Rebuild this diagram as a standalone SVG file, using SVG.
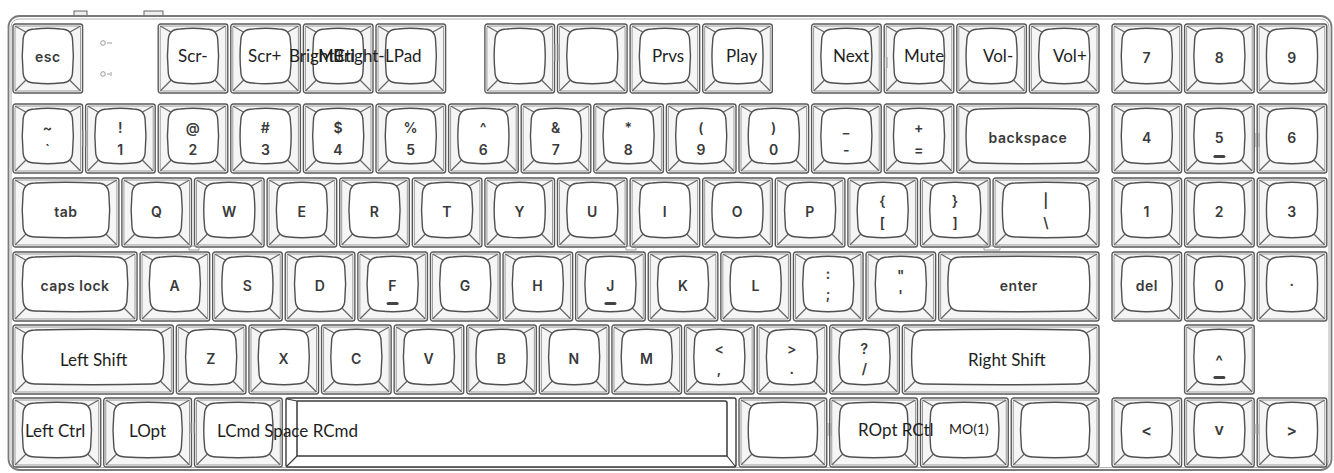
<svg xmlns="http://www.w3.org/2000/svg" xmlns:xlink="http://www.w3.org/1999/xlink" width="1334" height="473" viewBox="0 0 1334 473">
<style>
.ko{fill:#fff;stroke:#5a5a5a;stroke-width:1.4}
.ki{fill:#f5f5f5;stroke:#9a9a9a;stroke-width:1}
.kc{fill:#fff;stroke:#505050;stroke-width:1.4}
.kd{fill:none;stroke:#666;stroke-width:1.2}
.lg{font-family:Inter,"Noto Sans",sans-serif;font-weight:600;font-size:14px;fill:#3a3a3a;text-anchor:middle;letter-spacing:.5px}
.lg.ar{font-size:16px}
.ov{font-family:Lato,"Liberation Sans",sans-serif;font-size:17px;fill:#1e1e1e}
.ov.s{font-size:14px}
.mk{fill:none;stroke:#9a9a9a;stroke-width:1}
.bump{fill:#444}
</style>
<defs>
<g id="k100"><rect class="ko" width="69.6" height="69" rx="2.5"/><rect class="ki" x="2" y="2" width="65.6" height="65" rx="1.5"/><path class="kd" d="M2 2L13.5 8.5M67.6 2L56.1 8.5M2 67L13.5 55.5M67.6 67L56.1 55.5"/><path class="kc" d="M22 5Q34.8 3.5 47.6 5Q59.6 5 59.6 17Q61.1 32 59.6 47Q59.6 59 47.6 59Q34.8 60.5 22 59Q10 59 10 47Q8.5 32 10 17Q10 5 22 5Z"/></g>
<g id="k125"><rect class="ko" width="87.75" height="69" rx="2.5"/><rect class="ki" x="2" y="2" width="83.75" height="65" rx="1.5"/><path class="kd" d="M2 2L13.5 8.5M85.75 2L74.25 8.5M2 67L13.5 55.5M85.75 67L74.25 55.5"/><path class="kc" d="M22 5Q43.9 3.5 65.75 5Q77.75 5 77.75 17Q79.25 32 77.75 47Q77.75 59 65.75 59Q43.9 60.5 22 59Q10 59 10 47Q8.5 32 10 17Q10 5 22 5Z"/></g>
<g id="k150"><rect class="ko" width="105.9" height="69" rx="2.5"/><rect class="ki" x="2" y="2" width="101.9" height="65" rx="1.5"/><path class="kd" d="M2 2L13.5 8.5M103.9 2L92.4 8.5M2 67L13.5 55.5M103.9 67L92.4 55.5"/><path class="kc" d="M22 5Q52.95 3.5 83.9 5Q95.9 5 95.9 17Q97.4 32 95.9 47Q95.9 59 83.9 59Q52.95 60.5 22 59Q10 59 10 47Q8.5 32 10 17Q10 5 22 5Z"/></g>
<g id="k175"><rect class="ko" width="124.05" height="69" rx="2.5"/><rect class="ki" x="2" y="2" width="120.05" height="65" rx="1.5"/><path class="kd" d="M2 2L13.5 8.5M122.05 2L110.55 8.5M2 67L13.5 55.5M122.05 67L110.55 55.5"/><path class="kc" d="M22 5Q62 3.5 102.05 5Q114.05 5 114.05 17Q115.55 32 114.05 47Q114.05 59 102.05 59Q62 60.5 22 59Q10 59 10 47Q8.5 32 10 17Q10 5 22 5Z"/></g>
<g id="k200"><rect class="ko" width="142.2" height="69" rx="2.5"/><rect class="ki" x="2" y="2" width="138.2" height="65" rx="1.5"/><path class="kd" d="M2 2L13.5 8.5M140.2 2L128.7 8.5M2 67L13.5 55.5M140.2 67L128.7 55.5"/><path class="kc" d="M22 5Q71.1 3.5 120.2 5Q132.2 5 132.2 17Q133.7 32 132.2 47Q132.2 59 120.2 59Q71.1 60.5 22 59Q10 59 10 47Q8.5 32 10 17Q10 5 22 5Z"/></g>
<g id="k225"><rect class="ko" width="160.35" height="69" rx="2.5"/><rect class="ki" x="2" y="2" width="156.35" height="65" rx="1.5"/><path class="kd" d="M2 2L13.5 8.5M158.35 2L146.85 8.5M2 67L13.5 55.5M158.35 67L146.85 55.5"/><path class="kc" d="M22 5Q80.2 3.5 138.35 5Q150.35 5 150.35 17Q151.85 32 150.35 47Q150.35 59 138.35 59Q80.2 60.5 22 59Q10 59 10 47Q8.5 32 10 17Q10 5 22 5Z"/></g>
<g id="k275"><rect class="ko" width="196.65" height="69" rx="2.5"/><rect class="ki" x="2" y="2" width="192.65" height="65" rx="1.5"/><path class="kd" d="M2 2L13.5 8.5M194.65 2L183.15 8.5M2 67L13.5 55.5M194.65 67L183.15 55.5"/><path class="kc" d="M22 5Q98.3 3.5 174.65 5Q186.65 5 186.65 17Q188.15 32 186.65 47Q186.65 59 174.65 59Q98.3 60.5 22 59Q10 59 10 47Q8.5 32 10 17Q10 5 22 5Z"/></g>
</defs>
<rect width="1334" height="473" fill="#fff"/>
<g id="case">
<rect x="74" y="11" width="13" height="5" fill="#eee" stroke="#666" stroke-width="1"/>
<rect x="144" y="11" width="19" height="5" fill="#eee" stroke="#666" stroke-width="1"/>
<rect x="8.5" y="16" width="1323" height="454" rx="11" fill="#fff" stroke="#7a7a7a" stroke-width="1.8"/>
<rect x="11" y="19" width="1318" height="448.5" rx="8" fill="#fff" stroke="#b0b0b0" stroke-width="1"/>
</g>
<g id="leds">
<circle cx="103" cy="43" r="2.3" class="mk"/><path class="mk" d="M107 43h5"/>
<circle cx="103" cy="74" r="2.3" class="mk"/><path class="mk" d="M107 74h3M111 72v4"/>
</g>
<g id="row-fn">
<g id="key-esc"><use href="#k100" x="13" y="24"/><text class="lg" x="47.8" y="62">esc</text></g>
<g id="key-f1"><use href="#k100" x="158.2" y="24"/></g>
<g id="key-f2"><use href="#k100" x="230.8" y="24"/></g>
<g id="key-f3"><use href="#k100" x="303.4" y="24"/></g>
<g id="key-f4"><use href="#k100" x="376" y="24"/></g>
<g id="key-f5"><use href="#k100" x="484.9" y="24"/></g>
<g id="key-f6"><use href="#k100" x="557.5" y="24"/></g>
<g id="key-f7"><use href="#k100" x="630.1" y="24"/></g>
<g id="key-f8"><use href="#k100" x="702.7" y="24"/></g>
<g id="key-f9"><use href="#k100" x="811.6" y="24"/></g>
<g id="key-f10"><use href="#k100" x="884.2" y="24"/></g>
<g id="key-f11"><use href="#k100" x="956.8" y="24"/></g>
<g id="key-f12"><use href="#k100" x="1029.4" y="24"/></g>
<g id="key-p7"><use href="#k100" x="1112" y="24"/><text class="lg" x="1146.8" y="63">7</text></g>
<g id="key-p8"><use href="#k100" x="1184.6" y="24"/><text class="lg" x="1219.4" y="63">8</text></g>
<g id="key-p9"><use href="#k100" x="1257.2" y="24"/><text class="lg" x="1292" y="63">9</text></g>
</g>
<g id="row-num">
<g id="key-grave"><use href="#k100" x="13" y="104"/><text class="lg" x="47.8" y="133">~</text><text class="lg" x="47.8" y="155">`</text></g>
<g id="key-1"><use href="#k100" x="85.6" y="104"/><text class="lg" x="120.4" y="133">!</text><text class="lg" x="120.4" y="155">1</text></g>
<g id="key-2"><use href="#k100" x="158.2" y="104"/><text class="lg" x="193" y="133">@</text><text class="lg" x="193" y="155">2</text></g>
<g id="key-3"><use href="#k100" x="230.8" y="104"/><text class="lg" x="265.6" y="133">#</text><text class="lg" x="265.6" y="155">3</text></g>
<g id="key-4"><use href="#k100" x="303.4" y="104"/><text class="lg" x="338.2" y="133">$</text><text class="lg" x="338.2" y="155">4</text></g>
<g id="key-5"><use href="#k100" x="376" y="104"/><text class="lg" x="410.8" y="133">%</text><text class="lg" x="410.8" y="155">5</text></g>
<g id="key-6"><use href="#k100" x="448.6" y="104"/><text class="lg" x="483.4" y="133">^</text><text class="lg" x="483.4" y="155">6</text></g>
<g id="key-7"><use href="#k100" x="521.2" y="104"/><text class="lg" x="556" y="133">&amp;</text><text class="lg" x="556" y="155">7</text></g>
<g id="key-8"><use href="#k100" x="593.8" y="104"/><text class="lg" x="628.6" y="133">*</text><text class="lg" x="628.6" y="155">8</text></g>
<g id="key-9"><use href="#k100" x="666.4" y="104"/><text class="lg" x="701.2" y="133">(</text><text class="lg" x="701.2" y="155">9</text></g>
<g id="key-0"><use href="#k100" x="739" y="104"/><text class="lg" x="773.8" y="133">)</text><text class="lg" x="773.8" y="155">0</text></g>
<g id="key-minus"><use href="#k100" x="811.6" y="104"/><text class="lg" x="846.4" y="133">_</text><text class="lg" x="846.4" y="155">-</text></g>
<g id="key-equal"><use href="#k100" x="884.2" y="104"/><text class="lg" x="919" y="133">+</text><text class="lg" x="919" y="155">=</text></g>
<g id="key-bksp"><use href="#k200" x="956.8" y="104"/><text class="lg" x="1027.9" y="143">backspace</text></g>
<g id="key-p4"><use href="#k100" x="1112" y="104"/><text class="lg" x="1146.8" y="143">4</text></g>
<g id="key-p5"><use href="#k100" x="1184.6" y="104"/><text class="lg" x="1219.4" y="143">5</text><rect class="bump" x="1213.4" y="155" width="12" height="3" rx="1.5"/></g>
<g id="key-p6"><use href="#k100" x="1257.2" y="104"/><text class="lg" x="1292" y="143">6</text></g>
</g>
<g id="row-top">
<g id="key-tab"><use href="#k150" x="13" y="178"/><text class="lg" x="65.95" y="217">tab</text></g>
<g id="key-q"><use href="#k100" x="121.9" y="178"/><text class="lg" x="156.7" y="217">Q</text></g>
<g id="key-w"><use href="#k100" x="194.5" y="178"/><text class="lg" x="229.3" y="217">W</text></g>
<g id="key-e"><use href="#k100" x="267.1" y="178"/><text class="lg" x="301.9" y="217">E</text></g>
<g id="key-r"><use href="#k100" x="339.7" y="178"/><text class="lg" x="374.5" y="217">R</text></g>
<g id="key-t"><use href="#k100" x="412.3" y="178"/><text class="lg" x="447.1" y="217">T</text></g>
<g id="key-y"><use href="#k100" x="484.9" y="178"/><text class="lg" x="519.7" y="217">Y</text></g>
<g id="key-u"><use href="#k100" x="557.5" y="178"/><text class="lg" x="592.3" y="217">U</text></g>
<g id="key-i"><use href="#k100" x="630.1" y="178"/><text class="lg" x="664.9" y="217">I</text></g>
<g id="key-o"><use href="#k100" x="702.7" y="178"/><text class="lg" x="737.5" y="217">O</text></g>
<g id="key-p"><use href="#k100" x="775.3" y="178"/><text class="lg" x="810.1" y="217">P</text></g>
<g id="key-lbr"><use href="#k100" x="847.9" y="178"/><text class="lg" x="882.7" y="206">{</text><text class="lg" x="882.7" y="228">[</text></g>
<g id="key-rbr"><use href="#k100" x="920.5" y="178"/><text class="lg" x="955.3" y="206">}</text><text class="lg" x="955.3" y="228">]</text></g>
<g id="key-bsl"><use href="#k150" x="993.1" y="178"/><text class="lg" x="1046.05" y="206">|</text><text class="lg" x="1046.05" y="228">\</text></g>
<g id="key-p1"><use href="#k100" x="1112" y="178"/><text class="lg" x="1146.8" y="217">1</text></g>
<g id="key-p2"><use href="#k100" x="1184.6" y="178"/><text class="lg" x="1219.4" y="217">2</text></g>
<g id="key-p3"><use href="#k100" x="1257.2" y="178"/><text class="lg" x="1292" y="217">3</text></g>
</g>
<g id="row-home">
<g id="key-caps"><use href="#k175" x="13" y="252"/><text class="lg" x="75" y="291">caps lock</text></g>
<g id="key-a"><use href="#k100" x="140.05" y="252"/><text class="lg" x="174.85" y="291">A</text></g>
<g id="key-s"><use href="#k100" x="212.65" y="252"/><text class="lg" x="247.45" y="291">S</text></g>
<g id="key-d"><use href="#k100" x="285.25" y="252"/><text class="lg" x="320.05" y="291">D</text></g>
<g id="key-f"><use href="#k100" x="357.85" y="252"/><text class="lg" x="392.65" y="291">F</text><rect class="bump" x="386.65" y="302" width="12" height="3" rx="1.5"/></g>
<g id="key-g"><use href="#k100" x="430.45" y="252"/><text class="lg" x="465.25" y="291">G</text></g>
<g id="key-h"><use href="#k100" x="503.05" y="252"/><text class="lg" x="537.85" y="291">H</text></g>
<g id="key-j"><use href="#k100" x="575.65" y="252"/><text class="lg" x="610.45" y="291">J</text><rect class="bump" x="604.45" y="302" width="12" height="3" rx="1.5"/></g>
<g id="key-k"><use href="#k100" x="648.25" y="252"/><text class="lg" x="683.05" y="291">K</text></g>
<g id="key-l"><use href="#k100" x="720.85" y="252"/><text class="lg" x="755.65" y="291">L</text></g>
<g id="key-semi"><use href="#k100" x="793.45" y="252"/><text class="lg" x="828.25" y="279">:</text><text class="lg" x="828.25" y="299">;</text></g>
<g id="key-quote"><use href="#k100" x="866.05" y="252"/><text class="lg" x="900.85" y="281">"</text><text class="lg" x="900.85" y="301">'</text></g>
<g id="key-enter"><use href="#k225" x="938.65" y="252"/><text class="lg" x="1018.8" y="291">enter</text></g>
<g id="key-pdel"><use href="#k100" x="1112" y="252"/><text class="lg" x="1146.8" y="291">del</text></g>
<g id="key-p0"><use href="#k100" x="1184.6" y="252"/><text class="lg" x="1219.4" y="291">0</text></g>
<g id="key-pdot"><use href="#k100" x="1257.2" y="252"/><text class="lg" x="1292" y="286">.</text></g>
</g>
<g id="row-shift">
<g id="key-lshift"><use href="#k225" x="13" y="325"/></g>
<g id="key-z"><use href="#k100" x="176.35" y="325"/><text class="lg" x="211.15" y="364">Z</text></g>
<g id="key-x"><use href="#k100" x="248.95" y="325"/><text class="lg" x="283.75" y="364">X</text></g>
<g id="key-c"><use href="#k100" x="321.55" y="325"/><text class="lg" x="356.35" y="364">C</text></g>
<g id="key-v"><use href="#k100" x="394.15" y="325"/><text class="lg" x="428.95" y="364">V</text></g>
<g id="key-b"><use href="#k100" x="466.75" y="325"/><text class="lg" x="501.55" y="364">B</text></g>
<g id="key-n"><use href="#k100" x="539.35" y="325"/><text class="lg" x="574.15" y="364">N</text></g>
<g id="key-m"><use href="#k100" x="611.95" y="325"/><text class="lg" x="646.75" y="364">M</text></g>
<g id="key-comma"><use href="#k100" x="684.55" y="325"/><text class="lg" x="719.35" y="354">&lt;</text><text class="lg" x="719.35" y="374">,</text></g>
<g id="key-period"><use href="#k100" x="757.15" y="325"/><text class="lg" x="791.95" y="354">&gt;</text><text class="lg" x="791.95" y="374">.</text></g>
<g id="key-slash"><use href="#k100" x="829.75" y="325"/><text class="lg" x="864.55" y="354">?</text><text class="lg" x="864.55" y="374">/</text></g>
<g id="key-rshift"><use href="#k275" x="902.35" y="325"/></g>
<g id="key-up"><use href="#k100" x="1184.6" y="325"/><text class="lg ar" x="1219.4" y="367">^</text><rect class="bump" x="1213.4" y="376" width="12" height="3" rx="1.5"/></g>
</g>
<g id="row-bottom">
<g id="key-lctrl"><use href="#k125" x="13" y="398"/></g>
<g id="key-lopt"><use href="#k125" x="103.75" y="398"/></g>
<g id="key-lcmd"><use href="#k125" x="194.5" y="398"/></g>
<g id="key-space"><rect x="286" y="398" width="450" height="69" rx="2" fill="#fff" stroke="#3a3a3a" stroke-width="1.4"/><path d="M297 401V456H727V403Q727 401 725 401H297" fill="#fff" stroke="#3a3a3a" stroke-width="1.5"/><path d="M287 466L297 456M735 466L727 456M287 399L297 401" fill="none" stroke="#3a3a3a" stroke-width="1.2"/></g>
<g id="key-r1"><use href="#k125" x="739" y="398"/></g>
<g id="key-ropt"><use href="#k125" x="829.75" y="398"/></g>
<g id="key-rctl"><use href="#k125" x="920.5" y="398"/></g>
<g id="key-fn"><use href="#k125" x="1011.25" y="398"/></g>
<g id="key-left"><use href="#k100" x="1112" y="398"/><text class="lg ar" x="1146.8" y="436">&lt;</text></g>
<g id="key-down"><use href="#k100" x="1184.6" y="398"/><text class="lg ar" x="1219.4" y="435">v</text></g>
<g id="key-right"><use href="#k100" x="1257.2" y="398"/><text class="lg ar" x="1292" y="436">&gt;</text></g>
</g>
<g id="marks">
<path class="mk" d="M83 130v16M86 130v16M555 44v17M558 44v17M884 57v11M887 57v11M1256 133v14M1259 133v14M191 423v10M194 423v10M828 423v13M831 423v13M1255 424v10M1258 424v10"/>
<path class="mk" d="M189 246h10v4h-10zM626 246h10v4h-10zM984 246h16v4h-16z"/>
</g>
<g id="labels">
<text class="ov" x="178" y="62">Scr-</text>
<text class="ov" x="248" y="62">Scr+</text>
<text class="ov" x="289" y="62">Bright+</text>
<text class="ov" x="318" y="62">MCtl</text>
<text class="ov" x="333" y="62">Bright-</text>
<text class="ov" x="385" y="62">LPad</text>
<text class="ov" x="652" y="62">Prvs</text>
<text class="ov" x="726" y="62">Play</text>
<text class="ov" x="833" y="62">Next</text>
<text class="ov" x="904" y="62">Mute</text>
<text class="ov" x="983" y="62">Vol-</text>
<text class="ov" x="1053" y="62">Vol+</text>
<text class="ov" x="60" y="366">Left Shift</text>
<text class="ov" x="968" y="366">Right Shift</text>
<text class="ov" x="25" y="437">Left Ctrl</text>
<text class="ov" x="129" y="437">LOpt</text>
<text class="ov" x="217" y="437">LCmd Space RCmd</text>
<text class="ov" x="858" y="436">ROpt RCtl</text>
<text class="ov s" x="949" y="434">MO(1)</text>
</g>
</svg>
